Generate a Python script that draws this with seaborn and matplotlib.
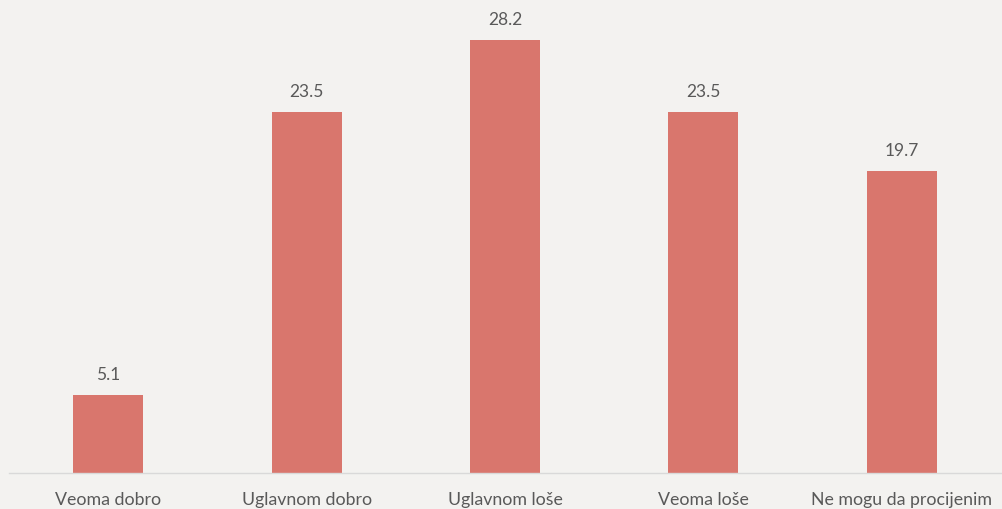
import matplotlib
matplotlib.use("Agg")
import matplotlib.pyplot as plt
import seaborn as sns
import pandas as pd

categories = ["Veoma dobro", "Uglavnom dobro", "Uglavnom loše", "Veoma loše", "Ne mogu da procijenim"]
values = [5.1, 23.5, 28.2, 23.5, 19.7]

df = pd.DataFrame({"cat": categories, "val": values})

sns.set_style("white")
plt.rcParams['font.family'] = ['Lato', 'DejaVu Sans']

bg = "#f3f2f0"
fig = plt.figure(figsize=(10.03, 5.10), dpi=100, facecolor=bg)
ax = fig.add_axes([9/1003, 36/510, 992/1003, (474-13.5)/510])
ax.set_facecolor(bg)

sns.barplot(data=df, x="cat", y="val", color="#d9766d", width=0.353, ax=ax,
            saturation=1, linewidth=0)

ax.set_ylim(0, 30)
ax.set_xlim(-0.5, len(categories) - 0.5)
for i, v in enumerate(values):
    ax.annotate(f"{v:.1f}", (i, v), xytext=(0, 15), textcoords="offset points",
                ha="center", va="center", fontsize=12.5, color="#595959")

ax.set_xlabel("")
ax.set_ylabel("")
ax.set_yticks([])
ax.tick_params(axis="x", length=0, pad=13, labelsize=12.8, labelcolor="#595959")
for s in ["top", "right", "left"]:
    ax.spines[s].set_visible(False)
ax.spines["bottom"].set_color("#d9d9d9")
ax.spines["bottom"].set_linewidth(1)

fig.savefig("out.png", dpi=100, facecolor=bg)
